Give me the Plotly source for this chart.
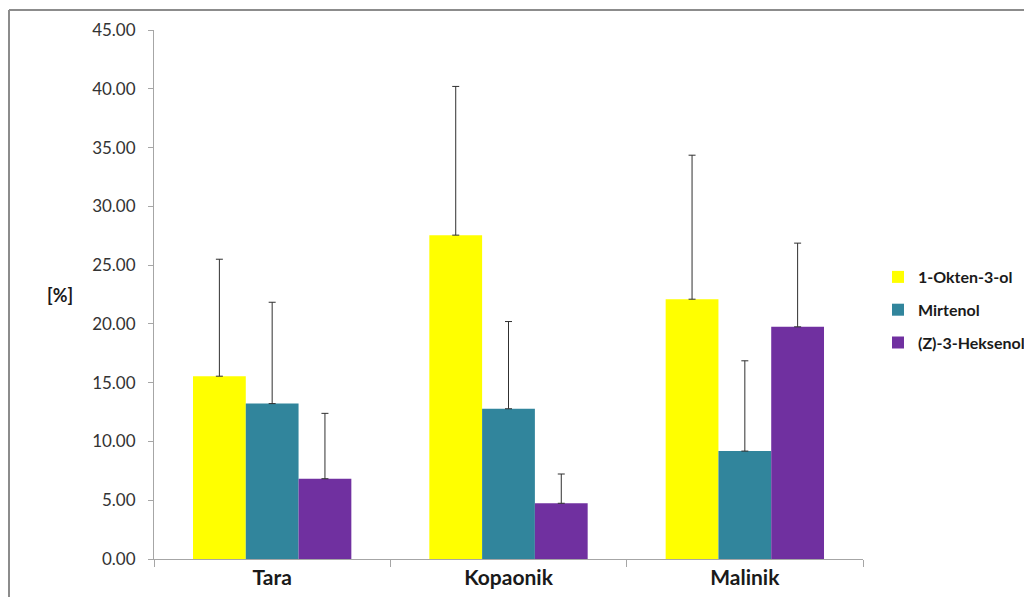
import plotly.graph_objects as go

categories = ["Tara", "Kopaonik", "Malinik"]
series_names = ["1-Okten-3-ol", "Mirtenol", "(Z)-3-Heksenol"]
okten = [15.55, 27.55, 22.10]
okten_err = [9.95, 12.65, 12.25]
mirtenol = [13.22, 12.78, 9.18]
mirtenol_err = [8.62, 7.42, 7.68]
heksenol = [6.83, 4.74, 19.75]
heksenol_err = [5.56, 2.49, 7.12]
y_ticks = [0, 5, 10, 15, 20, 25, 30, 35, 40, 45]
y_tick_labels = ["%.2f" % v for v in y_ticks]

colors = ["#FFFF00", "#31859C", "#7030A0"]
values = [okten, mirtenol, heksenol]
errors = [okten_err, mirtenol_err, heksenol_err]

FONT = "Lato, Carlito, Calibri, sans-serif"

# page body has an 8px margin; keep the figure inside the viewport (no scrollbars)
OFF = 8
W, H = 1032 - 2 * OFF, 605 - 2 * OFF
# plot area target in page px
L, R, T, B = 154, 863, 30, 559
PW, PH = R - L, B - T

fig = go.Figure()
for name, vals, errs, col in zip(series_names, values, errors, colors):
    fig.add_trace(go.Bar(
        x=categories, y=vals, name=name, legendgroup=name,
        marker=dict(color=col, line=dict(width=0)),
        error_y=dict(type="data", array=errs, arrayminus=[0] * len(errs),
                     symmetric=False, color="#303030", thickness=1, width=3.5),
    ))

fig.update_layout(
    width=W, height=H,
    margin=dict(l=L - OFF, r=W + OFF - R, t=T - OFF, b=H + OFF - B, autoexpand=False),
    paper_bgcolor="white", plot_bgcolor="white",
    barmode="group", bargap=0.33, bargroupgap=0,
    font=dict(family=FONT, color="#262626"),
    showlegend=True,
    legend=dict(xref="container", yref="container",
                x=(878 - OFF) / W, xanchor="left", y=1 - (310 - OFF) / H, yanchor="middle",
                font=dict(size=16, family=FONT, color="#1a1a1a", weight="bold"),
                tracegroupgap=9, itemwidth=30, bgcolor="rgba(0,0,0,0)"),
    xaxis=dict(
        type="category", showline=True, linecolor="#A6A6A6", linewidth=1,
        ticks="outside", tickson="boundaries", ticklen=7, tickcolor="#A6A6A6",
        tickfont=dict(size=21, family=FONT, color="#1a1a1a", weight="bold"),
        showgrid=False, zeroline=False,
    ),
    yaxis=dict(
        range=[0, 45], tickvals=y_ticks, ticktext=y_tick_labels,
        showline=True, linecolor="#A6A6A6", linewidth=1,
        ticks="outside", ticklen=5, tickcolor="#A6A6A6",
        tickfont=dict(size=17, family=FONT, color="#333333"),
        ticklabelstandoff=9,
        showgrid=False, zeroline=False,
    ),
    annotations=[dict(
        text="[%]", xref="paper", yref="paper", x=(60 - L) / PW, y=(B - 295) / PH,
        showarrow=False, xanchor="center", yanchor="middle",
        font=dict(size=18, family=FONT, color="#1a1a1a", weight="bold"),
    )],
    shapes=[
        dict(type="line", xref="paper", yref="paper",
             x0=(9 - L) / PW, x1=(1040 - L) / PW, y0=(B - 10) / PH, y1=(B - 10) / PH,
             line=dict(color="#8C8C8C", width=2), layer="below"),
        dict(type="line", xref="paper", yref="paper",
             x0=(9 - L) / PW, x1=(9 - L) / PW, y0=(B - 10) / PH, y1=(B - 620) / PH,
             line=dict(color="#8C8C8C", width=2), layer="below"),
    ],
)

fig.write_html("out.html")
